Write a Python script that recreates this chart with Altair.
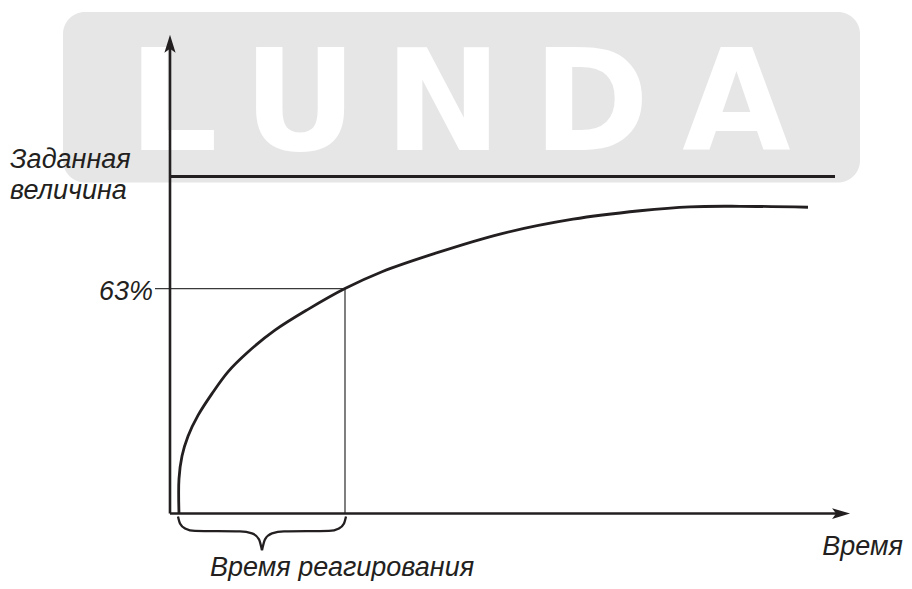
import altair as alt
import pandas as pd

# ---- data (x in units of the response time, y in % of response) ----
curve_t = [0.0514, 0.0514, 0.0686, 0.1029, 0.160, 0.240, 0.3314, 0.4457, 0.600,
           0.7886, 1.000, 1.2114, 1.5143, 1.8857, 2.3029, 2.6857, 2.9714, 3.2571, 3.6457]
curve_v = [0.0, 9.71, 16.10, 21.65, 27.48, 33.58, 39.69, 45.24, 51.34,
           57.17, 63.0, 67.72, 72.85, 78.26, 82.42, 84.78, 85.89, 86.03, 85.76]

setpoint_value = 94.36
setpoint_end = 3.80
response_time = 1.0
response_level = 63.0
guide_start = -0.0857

x_axis_end = 3.886
y_axis_end = 134.05

brace_left_t = [0.0457, 0.0571, 0.0857, 0.1429, 0.40, 0.4686, 0.5086, 0.5257]
brace_left_v = [-0.83, -2.78, -4.16, -4.86, -5.0, -5.55, -7.22, -10.27]
brace_right_t = [0.5257, 0.5429, 0.5829, 0.6514, 0.9086, 0.9657, 0.9943, 1.0057]
brace_right_v = [-10.27, -7.22, -5.55, -5.0, -4.86, -4.16, -2.78, -0.83]

left_labels = ["Заданная", "величина", "Время реагирования"]
left_label_t = [-0.914, -0.914, 0.229]
left_label_v = [96.86, 87.98, -17.4]
right_labels = ["63%", "Время"]
right_label_t = [-0.097, 4.188]
right_label_v = [59.67, -11.66]

wm_letters = ["L", "U", "N", "D", "A"]
wm_t = [0.0171, 0.7429, 1.560, 2.406, 3.237]
wm_v = 101.86
wm_box = dict(t0=-0.6114, t1=3.943, v0=92.70, v1=140.43)

X_DOMAIN = [-0.9257, 4.1943]
Y_DOMAIN = [-17.48, 141.54]

INK = "#231f20"
FONT_SIZE = 27

xs = alt.Scale(domain=X_DOMAIN, nice=False, zero=False)
ys = alt.Scale(domain=Y_DOMAIN, nice=False, zero=False)


def X(f):
    return alt.X(f, type="quantitative", scale=xs, axis=None)


def Y(f):
    return alt.Y(f, type="quantitative", scale=ys, axis=None)


# watermark
box = alt.Chart(pd.DataFrame([wm_box])).mark_rect(
    cornerRadius=22, color="#e6e6e6"
).encode(x=X("t0"), x2="t1", y=Y("v0"), y2="v1")

letters = alt.Chart(pd.DataFrame({"t": wm_t, "v": [wm_v] * 5, "s": wm_letters})).mark_text(
    font="DejaVu Sans", fontWeight="bold", fontSize=140, color="white",
    align="center", baseline="alphabetic"
).encode(x=X("t"), y=Y("v"), text="s:N")

# setpoint line
setpoint = alt.Chart(pd.DataFrame({"t0": [0.0], "t1": [setpoint_end], "v": [setpoint_value]})).mark_rule(
    color=INK, strokeWidth=2.8
).encode(x=X("t0"), x2="t1", y=Y("v"))

# 63 % guides
guide_h = alt.Chart(pd.DataFrame({"t0": [guide_start], "t1": [response_time], "v": [response_level]})).mark_rule(
    color="#3a3a3a", strokeWidth=1.3
).encode(x=X("t0"), x2="t1", y=Y("v"))
guide_v = alt.Chart(pd.DataFrame({"t": [response_time], "v0": [0.0], "v1": [response_level]})).mark_rule(
    color="#3a3a3a", strokeWidth=1.3
).encode(x=X("t"), y=Y("v0"), y2="v1")

# axes
x_axis = alt.Chart(pd.DataFrame({"t0": [0.0], "t1": [x_axis_end - 0.05], "v": [0.0]})).mark_rule(
    color=INK, strokeWidth=2.6
).encode(x=X("t0"), x2="t1", y=Y("v"))
y_axis = alt.Chart(pd.DataFrame({"t": [0.0], "v0": [0.0], "v1": [y_axis_end - 3.0]})).mark_rule(
    color=INK, strokeWidth=2.6
).encode(x=X("t"), y=Y("v0"), y2="v1")

arrow_up = alt.Chart(pd.DataFrame({"t": [0.0], "v": [y_axis_end]})).mark_point(
    shape="M0,0 L0.62,2 L0,1.55 L-0.62,2 Z", size=324, filled=True, color=INK,
    opacity=1, strokeWidth=0
).encode(x=X("t"), y=Y("v"))
arrow_right = alt.Chart(pd.DataFrame({"t": [x_axis_end], "v": [0.0]})).mark_point(
    shape="M0,0 L-2,-0.6 L-1.55,0 L-2,0.6 Z", size=324, filled=True, color=INK,
    opacity=1, strokeWidth=0
).encode(x=X("t"), y=Y("v"))

# response curve
curve = alt.Chart(pd.DataFrame({"t": curve_t, "v": curve_v, "i": range(len(curve_t))})).mark_line(
    color=INK, strokeWidth=2.8, interpolate="catmull-rom"
).encode(x=X("t"), y=Y("v"), order="i:Q")

# brace
brace_df = pd.DataFrame({
    "t": brace_left_t + brace_right_t,
    "v": brace_left_v + brace_right_v,
    "side": ["l"] * len(brace_left_t) + ["r"] * len(brace_right_t),
})
brace = alt.Chart(brace_df).mark_line(
    color=INK, strokeWidth=2.3, interpolate="monotone"
).encode(x=X("t"), y=Y("v"), detail="side:N")

# labels
lab_l = alt.Chart(pd.DataFrame({"t": left_label_t, "v": left_label_v, "s": left_labels})).mark_text(
    font="Liberation Sans", fontStyle="italic", fontSize=FONT_SIZE, color=INK,
    align="left", baseline="alphabetic"
).encode(x=X("t"), y=Y("v"), text="s:N")
lab_r = alt.Chart(pd.DataFrame({"t": right_label_t, "v": right_label_v, "s": right_labels})).mark_text(
    font="Liberation Sans", fontStyle="italic", fontSize=FONT_SIZE, color=INK,
    align="right", baseline="alphabetic"
).encode(x=X("t"), y=Y("v"), text="s:N")

chart = alt.layer(
    box, letters, setpoint, guide_h, guide_v, x_axis, y_axis,
    curve, brace, arrow_up, arrow_right, lab_l, lab_r
).properties(
    width=896, height=573,
    autosize=alt.AutoSizeParams(type="fit", contains="padding"),
    padding=0, background="white"
).configure_view(stroke=None)

chart.save("out.html", embed_options={"renderer": "svg", "actions": False})
